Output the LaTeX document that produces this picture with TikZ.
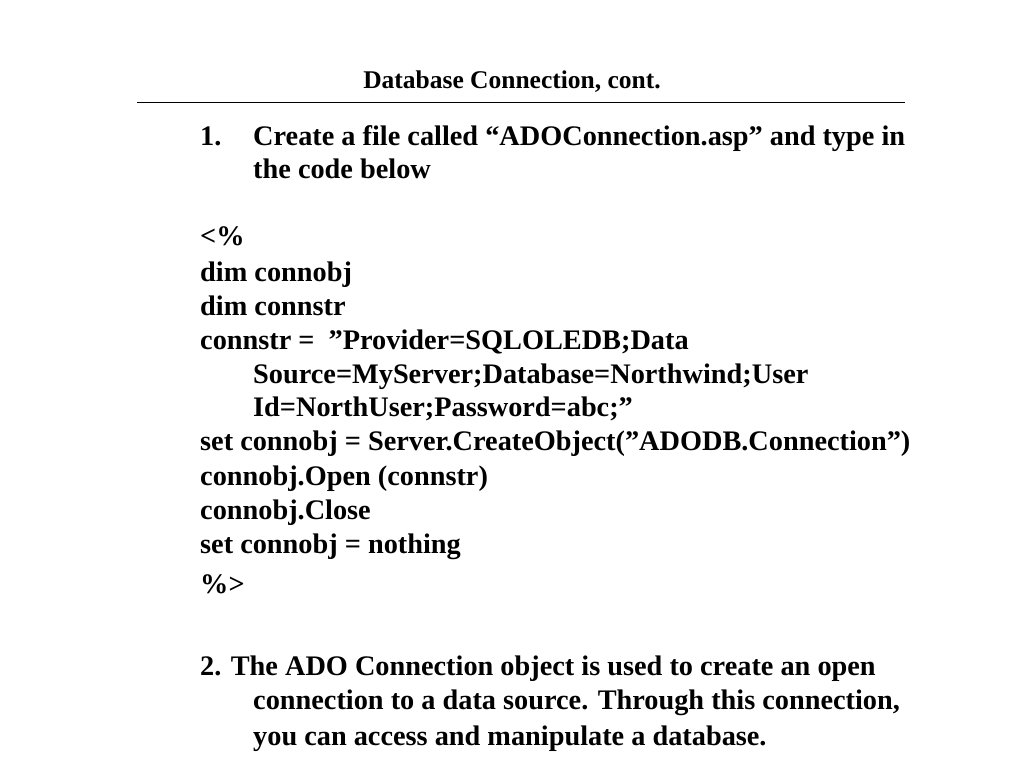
\documentclass[tikz,border=0pt]{standalone}
\usepackage{fontspec}
\setmainfont{Liberation Serif}
\newcommand{\dq}{\char34 }
\begin{document}
\begin{tikzpicture}[x=1pt,y=-1pt,
  ln/.style={anchor=base west,inner sep=0,font=\fontsize{28.3}{32}\selectfont\bfseries}]
\useasboundingbox (0,0) rectangle (1024,768);
\node[anchor=base,inner sep=0,font=\fontsize{25.5}{28}\selectfont\bfseries] (title) at (512,88) {Database Connection, cont.};
\draw[line width=1pt] (137,102) coordinate (l1) -- (905,102) coordinate (l2);
\node[ln] (n1) at (200,145) {1.};
\node[ln] (a1) at (253,145) {Create a file called “ADOConnection.asp” and type in};
\node[ln] (a2) at (253,178) {the code below};
\node[ln] (c0) at (200,245) {<\%};
\node[ln] (c1) at (200,281) {dim connobj};
\node[ln] (c2) at (200,315) {dim connstr};
\node[ln] (c3) at (200,349) {connstr = \ \dq Provider=SQLOLEDB;Data};
\node[ln] (c4) at (253,383) {Source=MyServer;Database=Northwind;User};
\node[ln] (c5) at (253,416) {Id=NorthUser;Password=abc;\dq};
\node[ln] (c6) at (200,450) {set connobj = Server.CreateObject(\dq ADODB.Connection\dq)};
\node[ln] (c7) at (200,485) {connobj.Open (connstr)};
\node[ln] (c8) at (200,519) {connobj.Close};
\node[ln] (c9) at (200,553) {set connobj = nothing};
\node[ln] (c10) at (200,593) {\%>};
\node[ln] (b1) at (200,675) {2. The ADO Connection object is used to create an open};
\node[ln] (b2) at (253,709) {connection to a data source. Through this connection,};
\node[ln] (b3) at (253,745) {you can access and manipulate a database.};
\end{tikzpicture}
\end{document}
